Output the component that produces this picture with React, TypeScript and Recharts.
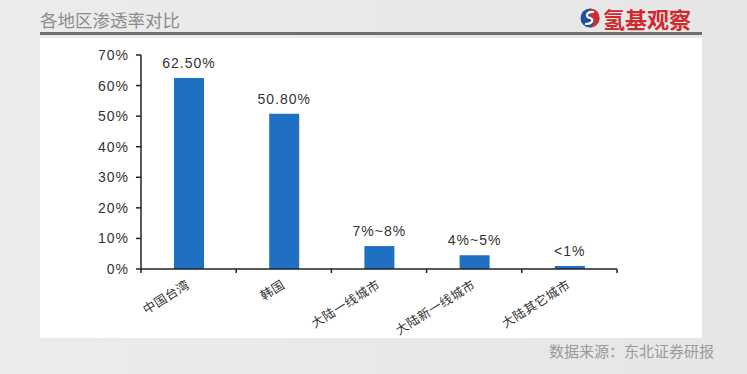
import React from 'react'
import { BarChart, Bar, XAxis, YAxis, LabelList } from 'recharts'

const regions = ['中国台湾', '韩国', '大陆一线城市', '大陆新一线城市', '大陆其它城市']
const rates = [62.5, 50.8, 7.5, 4.5, 1]
const rateLabels = ['62.50%', '50.80%', '7%~8%', '4%~5%', '<1%']
const yTicks = [0, 10, 20, 30, 40, 50, 60, 70]

const data = regions.map((region, i) => ({ region, rate: rates[i], label: rateLabels[i] }))

const sans = '"Liberation Sans", Arial, sans-serif'
const cjk = '"Noto Sans CJK SC", sans-serif'

// category labels rotated, plus tick marks on the band edges
const RegionTick = (props: any) => {
    const { x, y, payload, index, visibleTicksCount } = props
    const half = payload && payload.offset ? payload.offset : 0
    const last = index === visibleTicksCount - 1
    return (
        <g>
            {half > 0 && <line x1={x - half} x2={x - half} y1={y - 4} y2={y} stroke="#222" strokeWidth={1.5} />}
            {half > 0 && last && <line x1={x + half} x2={x + half} y1={y - 4} y2={y} stroke="#222" strokeWidth={1.5} />}
            <text
                x={x + 2}
                y={y + 14}
                transform={`rotate(-32, ${x + 2}, ${y + 14})`}
                textAnchor="end"
                fontSize={12.5}
                fill="#333"
                fontFamily={cjk}
                letterSpacing={0.5}
            >
                {payload.value}
            </text>
        </g>
    )
}

const App = () => {
    return (
        <div style={{ position: 'absolute', left: 0, top: 0, width: 747, height: 374, background: 'linear-gradient(90deg, #ececec, #e6e6e6)', overflow: 'hidden' }}>
            <div style={{ position: 'absolute', left: 40, top: 10, fontSize: 17.5, color: '#8c8c8c', fontFamily: cjk, lineHeight: '20px' }}>
                各地区渗透率对比
            </div>
            <div style={{ position: 'absolute', left: 40, top: 32, width: 662, height: 2.5, background: '#6f6f6f' }} />
            <div style={{ position: 'absolute', left: 580, top: 8, display: 'flex', alignItems: 'center' }}>
                <svg width={20} height={20}>
                    <circle cx={10} cy={10} r={9.5} fill="#21509c" />
                    <path d="M10 0.5 A9.5 9.5 0 0 1 19.5 10 A9.5 9.5 0 0 1 10 19.5 C15 15, 15 11, 10 10 Z" fill="#d02a2e" />
                    <path d="M14 4 C6 3, 5 9, 10 10 C14 11, 13 16, 5 16" stroke="#fff" strokeWidth={2.2} fill="none" />
                </svg>
                <span style={{ marginLeft: 3, fontSize: 22, fontWeight: 'bold', color: '#cf2a2e', fontFamily: cjk, lineHeight: '20px' }}>
                    氢基观察
                </span>
            </div>
            <div style={{ position: 'absolute', left: 40, top: 38, width: 662, height: 300, background: '#fff' }}>
                <BarChart width={662} height={300} data={data} margin={{ top: 17, right: 85, left: 0, bottom: 0 }}>
                    <XAxis
                        dataKey="region"
                        height={69}
                        axisLine={{ stroke: '#222', strokeWidth: 1.5 }}
                        tickLine={false}
                        tickSize={4}
                        tickMargin={0}
                        interval={0}
                        tick={<RegionTick />}
                    />
                    <YAxis
                        width={101}
                        domain={[0, 70]}
                        ticks={yTicks}
                        tickFormatter={(v: number) => `${v}%`}
                        axisLine={{ stroke: '#222', strokeWidth: 1.5 }}
                        tickLine={{ stroke: '#222', strokeWidth: 1.5 }}
                        tickSize={5}
                        tickMargin={7}
                        tick={{ fontSize: 14, fill: '#333', fontFamily: sans, letterSpacing: 1 }}
                    />
                    <Bar dataKey="rate" fill="#1f6fc2" barSize={30} isAnimationActive={false}>
                        <LabelList dataKey="label" position="top" offset={10} fontSize={14} fill="#333" fontFamily={sans} letterSpacing={1} />
                    </Bar>
                </BarChart>
            </div>
            <div style={{ position: 'absolute', left: 549, top: 342, fontSize: 15, color: '#9a9a9a', fontFamily: cjk, lineHeight: '18px' }}>
                数据来源：东北证券研报
            </div>
        </div>
    )
}

export default App
